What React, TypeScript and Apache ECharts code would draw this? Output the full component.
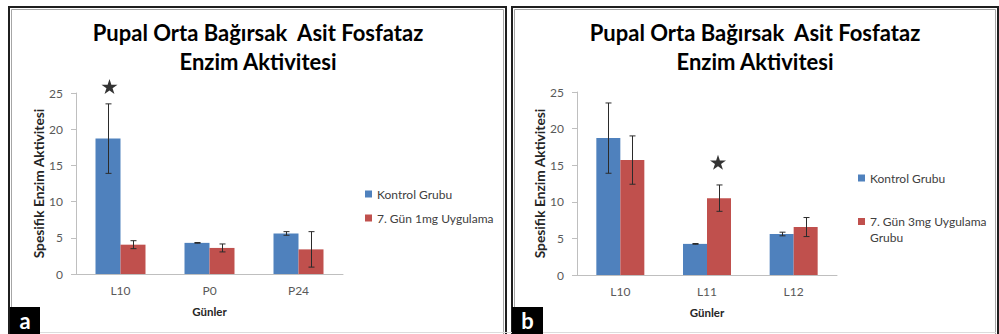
import React, { useEffect, useRef } from "react";
import * as echarts from "echarts";

// ---- data ----
const categoriesA = ["L10", "P0", "P24"];
const kontrolA = [18.7, 4.3, 5.6];
const kontrolAErr = [4.8, 0.05, 0.25];
const dose1A = [4.05, 3.6, 3.4];
const dose1AErr = [0.55, 0.55, 2.45];

const categoriesB = ["L10", "L11", "L12"];
const kontrolB = [18.7, 4.25, 5.6];
const kontrolBErr = [4.8, 0.05, 0.25];
const dose3B = [15.7, 10.5, 6.55];
const dose3BErr = [3.3, 1.8, 1.3];

// significance stars: [category index, value]
const starA = [[0, 25.9]];
const starB = [[1, 15.4]];

const yTicks = { min: 0, max: 25, interval: 5 };

const titleText = "Pupal Orta Bağırsak  Asit Fosfataz\nEnzim Aktivitesi";
const yName = "Spesifik Enzim Aktivitesi";
const xName = "Günler";
const nameKontrol = "Kontrol Grubu";
const name1mg = "7. Gün 1mg Uygulama";
const name3mg = "7. Gün 3mg Uygulama Grubu";

const BLUE = "#4F81BD";
const RED = "#C0504D";
const FONT = "Lato, 'Open Sans', sans-serif";
const STAR =
  "path://M50,0L61.2,34.5L97.6,34.5L68.2,55.9L79.4,90.5L50,69.1L20.6,90.5L31.8,55.9L2.4,34.5L38.8,34.5Z";

function errData(vals: number[], errs: number[]) {
  return vals.map((v, i) => [i, v - errs[i], v + errs[i]]);
}

function errSeries(data: number[][], axis: number, offset: number) {
  return {
    type: "custom",
    xAxisIndex: axis,
    yAxisIndex: axis,
    silent: true,
    z: 5,
    data,
    encode: { x: 0, y: [1, 2] },
    renderItem: (params: any, api: any) => {
      const c = api.value(0);
      const lo = api.coord([c, api.value(1)]);
      const hi = api.coord([c, api.value(2)]);
      const x = Math.round(lo[0] + offset) + 0.5;
      const st = { stroke: "#2b2b2b", lineWidth: 1 };
      return {
        type: "group",
        children: [
          { type: "line", shape: { x1: x, y1: hi[1], x2: x, y2: lo[1] }, style: st },
          { type: "line", shape: { x1: x - 3, y1: hi[1], x2: x + 3, y2: hi[1] }, style: st },
          { type: "line", shape: { x1: x - 3, y1: lo[1], x2: x + 3, y2: lo[1] }, style: st },
        ],
      };
    },
  };
}

function axesFor(idx: number, cats: string[]) {
  const x = {
    type: "category",
    gridIndex: idx,
    data: cats,
    axisLine: { lineStyle: { color: "#BFBFBF", width: 1 } },
    axisTick: { show: false },
    axisLabel: { color: "#595959", fontSize: 12, fontFamily: FONT, margin: 10 },
    name: xName,
    nameLocation: "middle",
    nameGap: 31,
    nameTextStyle: { color: "#262626", fontSize: 11.5, fontWeight: "bold", fontFamily: FONT },
  };
  const y = {
    type: "value",
    gridIndex: idx,
    min: yTicks.min,
    max: yTicks.max,
    interval: yTicks.interval,
    splitLine: { show: false },
    axisLine: { show: true, lineStyle: { color: "#BFBFBF", width: 1 } },
    axisTick: { show: true, length: 5, lineStyle: { color: "#BFBFBF" } },
    axisLabel: { color: "#595959", fontSize: 12, fontFamily: FONT, margin: 13 },
    name: yName,
    nameLocation: "middle",
    nameRotate: 90,
    nameGap: 31,
    nameTextStyle: { color: "#262626", fontSize: 13.8, fontWeight: "bold", fontFamily: FONT },
  };
  return { x, y };
}

export default function App() {
  const ref = useRef<HTMLDivElement>(null);
  useEffect(() => {
    if (!ref.current) return;
    const chart = echarts.init(ref.current, undefined, { renderer: "svg" });
    const a = axesFor(0, categoriesA);
    const b = axesFor(1, categoriesB);
    const legendText = { color: "#404040", fontSize: 12, fontFamily: FONT, lineHeight: 14 };
    const panel = (x: number, w: number) => [
      { type: "rect", shape: { x: x, y: 7, width: w, height: 345 }, style: { fill: "none", stroke: "#1f1f1f", lineWidth: 2 }, silent: true },
      { type: "rect", shape: { x: x + 2.5, y: 9.5, width: w - 5, height: 340 }, style: { fill: "none", stroke: "#a6a6a6", lineWidth: 1 }, silent: true },
    ];
    const tag = (x: number, w: number, letter: string) => ({
      type: "group",
      children: [
        { type: "rect", shape: { x, y: 307, width: w, height: 27 }, style: { fill: "#000" } },
        {
          type: "text",
          x: x + w / 2,
          y: 320,
          style: {
            text: letter, fill: "#fff", font: "bold 22px " + FONT, lineHeight: 22,
            align: "center", verticalAlign: "middle", textAlign: "center", textVerticalAlign: "middle",
          },
        },
      ],
    });
    const title = (cx: number) => ({
      type: "text",
      x: cx,
      y: 18,
      style: {
        text: titleText, fill: "#000", font: "bold 22px " + FONT, lineHeight: 29,
        align: "center", verticalAlign: "top", textAlign: "center", textVerticalAlign: "top",
      },
    });
    chart.setOption({
      animation: false,
      backgroundColor: "#fff",
      grid: [
        { left: 76, top: 93, width: 267, height: 181 },
        { left: 577, top: 92, width: 260, height: 183 },
      ],
      xAxis: [a.x, b.x],
      yAxis: [a.y, b.y],
      legend: [
        { data: [nameKontrol], left: 365, top: 187, padding: 0, itemWidth: 7, itemHeight: 7, icon: "rect", textStyle: legendText, selectedMode: false },
        { data: [name1mg], left: 365, top: 211, padding: 0, itemWidth: 7, itemHeight: 7, icon: "rect", textStyle: legendText, selectedMode: false },
        { data: [nameKontrol], left: 858, top: 171, padding: 0, itemWidth: 7, itemHeight: 7, icon: "rect", textStyle: legendText, selectedMode: false },
        {
          data: [name3mg],
          left: 858, top: 213.5, padding: 0, itemWidth: 7, itemHeight: 23,
          icon: "path://M0,0L7,0L7,7L0,7Z M0,23L7,23Z",
          textStyle: { ...legendText, lineHeight: 16 },
          formatter: () => "7. Gün 3mg Uygulama\nGrubu",
          selectedMode: false,
        },
      ],
      graphic: [
        ...panel(9, 497),
        ...panel(512, 486),
        { type: "line", shape: { x1: 11, y1: 332.5, x2: 996, y2: 332.5 }, style: { stroke: "#dcdcdc", lineWidth: 1 }, silent: true },
        title(258),
        title(755),
        tag(10, 30, "a"),
        tag(512, 31, "b"),
      ],
      series: [
        { type: "bar", name: nameKontrol, xAxisIndex: 0, yAxisIndex: 0, data: kontrolA, barWidth: 25, barGap: "0%", itemStyle: { color: BLUE } },
        { type: "bar", name: name1mg, xAxisIndex: 0, yAxisIndex: 0, data: dose1A, barWidth: 25, barGap: "0%", itemStyle: { color: RED } },
        { type: "bar", name: nameKontrol, xAxisIndex: 1, yAxisIndex: 1, data: kontrolB, barWidth: 24, barGap: "0%", itemStyle: { color: BLUE } },
        { type: "bar", name: name3mg, xAxisIndex: 1, yAxisIndex: 1, data: dose3B, barWidth: 24, barGap: "0%", itemStyle: { color: RED } },
        errSeries(errData(kontrolA, kontrolAErr), 0, -12.5),
        errSeries(errData(dose1A, dose1AErr), 0, 12.5),
        errSeries(errData(kontrolB, kontrolBErr), 1, -12),
        errSeries(errData(dose3B, dose3BErr), 1, 12),
        {
          type: "scatter", name: "starA", xAxisIndex: 0, yAxisIndex: 0, data: starA, clip: false, silent: true,
          symbol: STAR, symbolSize: [16, 15], symbolOffset: [-11, 0], itemStyle: { color: "#000" },
        },
        {
          type: "scatter", name: "starB", xAxisIndex: 1, yAxisIndex: 1, data: starB, clip: false, silent: true,
          symbol: STAR, symbolSize: [16, 15], symbolOffset: [11, 0], itemStyle: { color: "#000" },
        },
      ],
    });
    return () => chart.dispose();
  }, []);
  return <div ref={ref} style={{ position: "absolute", left: 0, top: 0, width: 999, height: 334 }} />;
}
